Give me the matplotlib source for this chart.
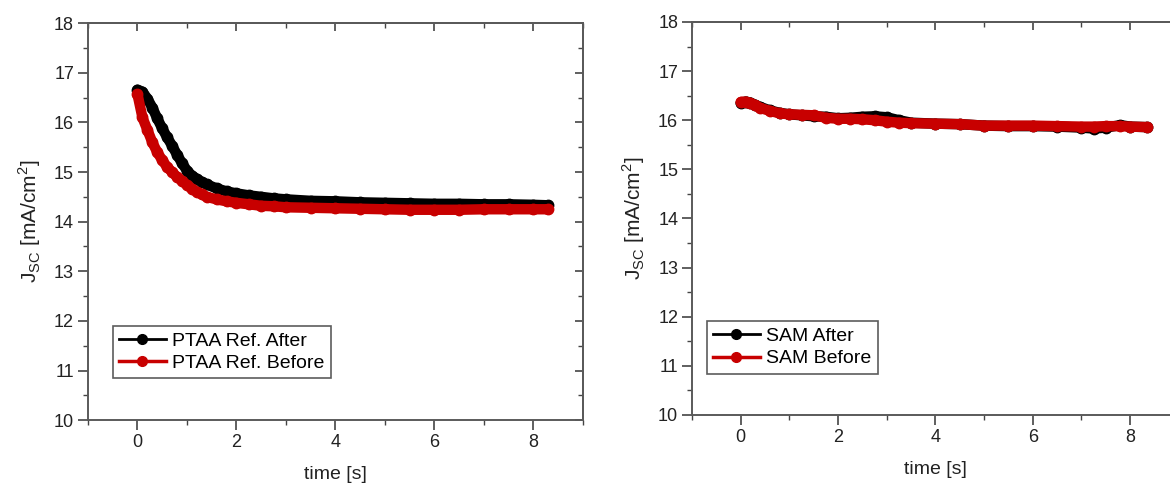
import matplotlib.pyplot as plt
from matplotlib.lines import Line2D
from matplotlib.ticker import MultipleLocator

plt.rcParams['font.family'] = ['Liberation Sans', 'DejaVu Sans']
plt.rcParams['mathtext.fontset'] = 'custom'
plt.rcParams['mathtext.rm'] = 'Liberation Sans'

# --- PTAA reference (left panel)
t_ptaa = [0, 0.1, 0.2, 0.3, 0.4, 0.5, 0.6, 0.7, 0.8, 0.9, 1.0, 1.1, 1.2, 1.3, 1.4,
          1.6, 1.8, 2.0, 2.25, 2.5, 2.75, 3.0, 3.5, 4.0, 4.5, 5.0, 5.5, 6.0, 6.5,
          7.0, 7.5, 8.0, 8.3]
ptaa_after = [16.66, 16.62, 16.48, 16.30, 16.08, 15.88, 15.70, 15.53, 15.35, 15.18,
              15.03, 14.93, 14.86, 14.80, 14.75, 14.67, 14.61, 14.57, 14.53, 14.50,
              14.47, 14.45, 14.42, 14.41, 14.39, 14.38, 14.37, 14.36, 14.36, 14.35,
              14.35, 14.34, 14.33]
ptaa_before = [16.57, 16.10, 15.85, 15.60, 15.40, 15.24, 15.10, 15.00, 14.90, 14.82,
               14.74, 14.66, 14.60, 14.55, 14.50, 14.45, 14.41, 14.38, 14.35, 14.32,
               14.31, 14.29, 14.28, 14.27, 14.26, 14.25, 14.24, 14.24, 14.24, 14.25,
               14.25, 14.25, 14.25]

# --- SAM (right panel)
t_sam = [0, 0.1, 0.2, 0.3, 0.4, 0.6, 0.8, 1.0, 1.25, 1.5, 1.75, 2.0, 2.25, 2.5, 2.75,
         3.0, 3.25, 3.5, 4.0, 4.5, 5.0, 5.5, 6.0, 6.5, 7.0, 7.25, 7.5, 7.8, 8.0, 8.35]
sam_after = [16.35, 16.38, 16.36, 16.31, 16.27, 16.20, 16.15, 16.12, 16.10, 16.08,
             16.07, 16.04, 16.05, 16.07, 16.08, 16.06, 16.00, 15.95, 15.93, 15.92,
             15.89, 15.88, 15.88, 15.87, 15.85, 15.83, 15.85, 15.90, 15.87, 15.86]
sam_before = [16.37, 16.38, 16.35, 16.30, 16.25, 16.19, 16.14, 16.12, 16.11, 16.10,
              16.05, 16.03, 16.03, 16.02, 16.00, 15.97, 15.95, 15.94, 15.93, 15.92,
              15.89, 15.89, 15.89, 15.88, 15.87, 15.87, 15.88, 15.88, 15.87, 15.86]

BLACK = '#000000'
RED = '#c80000'
AXC = '#444444'
TXT = '#222222'


def setup(ax):
    ax.set_xlim(-1, 9)
    ax.set_ylim(10, 18)
    ax.xaxis.set_major_locator(MultipleLocator(2))
    ax.xaxis.set_minor_locator(MultipleLocator(1))
    ax.yaxis.set_major_locator(MultipleLocator(1))
    ax.yaxis.set_minor_locator(MultipleLocator(0.5))
    ax.tick_params(which='major', direction='out', length=7, width=1.2, pad=3,
                   color=AXC, labelsize=13, labelcolor=TXT)
    ax.tick_params(which='minor', direction='out', length=3.5, width=1.0, color=AXC)
    for s in ax.spines.values():
        s.set_color('#5a5a5a')
        s.set_linewidth(1.4)
    top = ax.secondary_xaxis('top')
    top.xaxis.set_major_locator(MultipleLocator(2))
    top.xaxis.set_minor_locator(MultipleLocator(1))
    top.tick_params(which='major', direction='in', length=6, width=1.2, color=AXC,
                    labeltop=False)
    top.tick_params(which='minor', direction='in', length=3.5, width=1.0, color=AXC)
    top.spines['top'].set_color('#5a5a5a')
    top.spines['top'].set_linewidth(1.4)
    right = ax.secondary_yaxis('right')
    right.yaxis.set_major_locator(MultipleLocator(1))
    right.yaxis.set_minor_locator(MultipleLocator(0.5))
    right.tick_params(which='major', direction='in', length=6, width=1.2, color=AXC,
                      labelright=False)
    right.tick_params(which='minor', direction='in', length=3.5, width=1.0, color=AXC)
    right.spines['right'].set_color('#5a5a5a')
    right.spines['right'].set_linewidth(1.4)
    ax.set_xlabel('time [s]', fontsize=14, color=TXT, labelpad=11)
    ax.set_ylabel(r'J$_{\mathregular{SC}}$ [mA/cm$^{\mathregular{2}}$]',
                  fontsize=15, color=TXT, labelpad=8)


def draw(ax, t, after, before, lab_after, lab_before, anchor):
    ax.plot(t, after, color=BLACK, lw=7.5, marker='o', ms=7.5,
            solid_joinstyle='round', solid_capstyle='round')
    ax.plot(t, before, color=RED, lw=7.5, marker='o', ms=7.5,
            solid_joinstyle='round', solid_capstyle='round')
    handles = [Line2D([], [], color=BLACK, lw=2, marker='o', ms=7),
               Line2D([], [], color=RED, lw=2.5, marker='o', ms=7)]
    leg = ax.legend(handles, [lab_after, lab_before], loc='lower left',
                    bbox_to_anchor=anchor, fontsize=14, frameon=True,
                    fancybox=False, edgecolor='#333333', handlelength=2.4,
                    handletextpad=0.35, borderpad=0.32, labelspacing=0.25,
                    borderaxespad=0)
    leg.get_frame().set_linewidth(1.2)


fig = plt.figure(figsize=(11.7, 4.84), dpi=100)
ax1 = fig.add_axes([0.0752, 0.132, 0.423, 0.820])
ax2 = fig.add_axes([0.5915, 0.1426, 0.416, 0.812])

setup(ax1)
setup(ax2)
draw(ax1, t_ptaa, ptaa_after, ptaa_before, 'PTAA Ref. After', 'PTAA Ref. Before',
     (0.05, 0.105))
draw(ax2, t_sam, sam_after, sam_before, 'SAM After', 'SAM Before', (0.03, 0.105))

fig.savefig('out.png', dpi=100)
